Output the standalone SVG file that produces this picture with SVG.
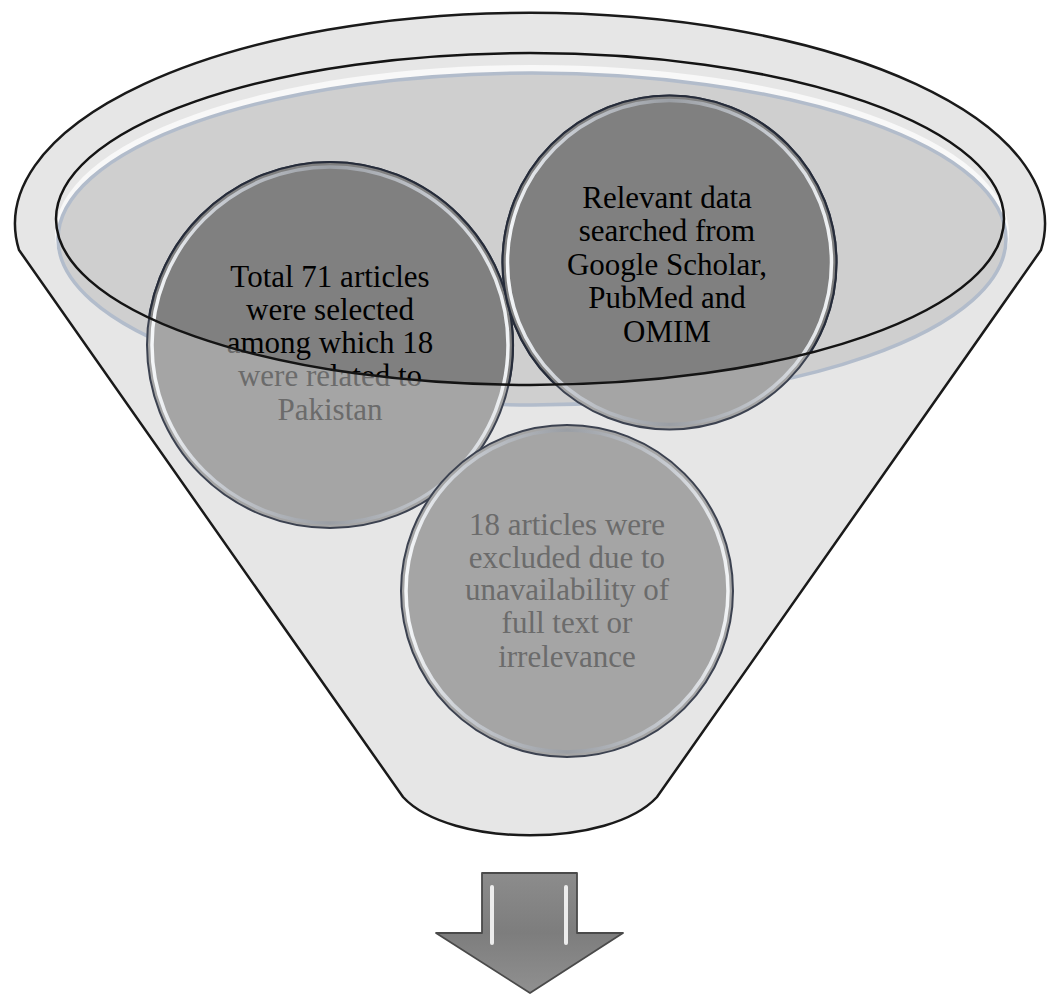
<svg xmlns="http://www.w3.org/2000/svg" width="1056" height="994" viewBox="0 0 1056 994">
<style>
.lbl{font-family:'Liberation Serif','Times New Roman',serif;font-size:31px;text-anchor:middle}
.lt{fill:#6b6b6b}
.dt{fill:#000000}
.disc{fill:#a5a5a5;stroke:#3c4250;stroke-width:2}
.disc-dark{fill:#808080;stroke:#262c3a;stroke-width:2.2}
.rim{fill:none;stroke:url(#rimGrad);stroke-width:3.5}
.edge{fill:none;stroke:#141414;stroke-width:2.5}
</style>
<defs>
<clipPath id="mouth"><ellipse cx="530" cy="219" rx="474" ry="166"/></clipPath>
<linearGradient id="rimGrad" x1="0" y1="0" x2="1" y2="0">
<stop offset="0" stop-color="#f4f6f8"/>
<stop offset="0.18" stop-color="#c8ccd2"/>
<stop offset="0.5" stop-color="#9a9ea4"/>
<stop offset="0.82" stop-color="#c8ccd2"/>
<stop offset="1" stop-color="#f0f2f4"/>
</linearGradient>
<linearGradient id="arrowGrad" x1="0" y1="0" x2="0" y2="1">
<stop offset="0" stop-color="#8c8c8c"/>
<stop offset="0.5" stop-color="#7d7d7d"/>
<stop offset="1" stop-color="#909090"/>
</linearGradient>
</defs>

<g id="funnel">
<path d="M19,250 A515,211 0 1 1 1041,250 L657,797 C610,848 450,848 403,797 Z" fill="#e6e6e6" stroke="#1a1a1a" stroke-width="2.5"/>
<ellipse cx="532" cy="234" rx="477" ry="169" fill="#f8f8f8"/>
<ellipse cx="532" cy="239" rx="474" ry="166" fill="#cfcfcf" stroke="#b2bccb" stroke-width="3.5"/>
</g>

<g id="node-selected">
<circle class="disc" cx="330" cy="345" r="183"/>
<circle class="rim" cx="330" cy="345" r="178"/>
<text class="lbl lt"><tspan x="330" y="287">Total 71 articles</tspan><tspan x="330" y="320">were selected</tspan><tspan x="330" y="353">among which 18</tspan><tspan x="330" y="386">were related to</tspan><tspan x="330" y="420">Pakistan</tspan></text>
<g clip-path="url(#mouth)">
<circle class="disc-dark" cx="330" cy="345" r="183"/>
<circle class="rim" cx="330" cy="345" r="178"/>
<text class="lbl dt"><tspan x="330" y="287">Total 71 articles</tspan><tspan x="330" y="320">were selected</tspan><tspan x="330" y="353">among which 18</tspan><tspan x="330" y="386">were related to</tspan><tspan x="330" y="420">Pakistan</tspan></text>
</g>
</g>

<g id="node-search">
<circle class="disc" cx="669.5" cy="262.5" r="167"/>
<circle class="rim" cx="669.5" cy="262.5" r="162"/>
<text class="lbl lt"><tspan x="667" y="208">Relevant data</tspan><tspan x="667" y="241">searched from</tspan><tspan x="667" y="275">Google Scholar,</tspan><tspan x="667" y="308">PubMed and</tspan><tspan x="667" y="342">OMIM</tspan></text>
<g clip-path="url(#mouth)">
<circle class="disc-dark" cx="669.5" cy="262.5" r="167"/>
<circle class="rim" cx="669.5" cy="262.5" r="162"/>
<text class="lbl dt"><tspan x="667" y="208">Relevant data</tspan><tspan x="667" y="241">searched from</tspan><tspan x="667" y="275">Google Scholar,</tspan><tspan x="667" y="308">PubMed and</tspan><tspan x="667" y="342">OMIM</tspan></text>
</g>
</g>

<g id="node-excluded">
<circle class="disc" cx="567" cy="591" r="166"/>
<circle class="rim" cx="567" cy="591" r="161"/>
<text class="lbl lt"><tspan x="567" y="535">18 articles were</tspan><tspan x="567" y="568">excluded due to</tspan><tspan x="567" y="600">unavailability of</tspan><tspan x="567" y="633">full text or</tspan><tspan x="567" y="667">irrelevance</tspan></text>
</g>

<g id="funnel-rim">
<ellipse class="edge" cx="530" cy="219" rx="474" ry="166"/>
</g>

<g id="connectors">
<path d="M482,873 L577,873 L577,933 L623,933 L530,993 L436,933 L482,933 Z" fill="url(#arrowGrad)" stroke="#4a4a4a" stroke-width="1.8" stroke-linejoin="round"/>
<rect x="490" y="885" width="4" height="60" rx="2" fill="#ffffff" opacity="0.85"/>
<rect x="564" y="885" width="4" height="60" rx="2" fill="#ffffff" opacity="0.85"/>
</g>
</svg>
